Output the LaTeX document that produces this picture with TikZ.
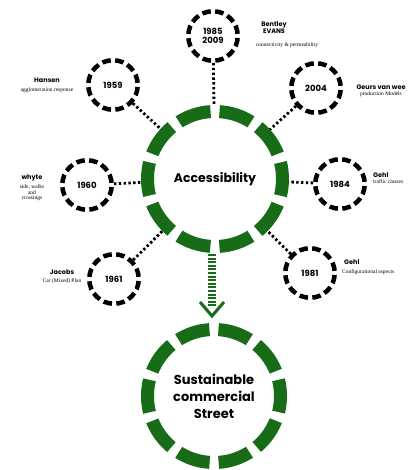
\documentclass[tikz,border=0pt]{standalone}
\usepackage{fontspec}
\setmainfont{Poppins}
\newfontfamily\notefont{Liberation Serif}
\definecolor{ringgreen}{RGB}{24,108,24}
\begin{document}
\begin{tikzpicture}[x=1pt,y=-1pt,
  yearc/.style={circle, draw=black, line width=4.5pt, minimum size=49.5pt, inner sep=0pt,
    dash pattern=on 8.6pt off 4.36pt, dash phase=10.8pt,
    font=\bfseries\fontsize{8.5}{9.5}\selectfont, align=center},
  hubc/.style={circle, draw=ringgreen, line width=13pt, inner sep=0pt, align=center},
  link/.style={draw=black, line width=2.8pt, dash pattern=on 2.4pt off 2.4pt},
  who/.style={font=\bfseries\fontsize{6.5}{7}\selectfont, inner sep=0pt, align=center},
  note/.style={font=\notefont\fontsize{5.5}{5.5}\selectfont, inner sep=0pt, align=center}]
\useasboundingbox (0,0) rectangle (409,470);

% main hubs: ten ring segments, gaps at top and bottom
\node[hubc, minimum size=135pt, dash pattern=on 33.4pt off 9pt, dash phase=16.7pt,
  font=\bfseries\fontsize{12.5}{14}\selectfont] (acc) at (215,179) {Accessibility};
\node[hubc, minimum size=133pt, dash pattern=on 32.8pt off 9pt, dash phase=16.4pt,
  font=\bfseries\fontsize{13}{17}\selectfont] (street) at (214,396)
  {Sustainable\\commercial\\Street};

% year circles
\node[yearc] (y59) at (113,85) {1959};
\node[yearc] (y85) at (213,36) {1985\\2009};
\node[yearc] (y04) at (316,88) {2004};
\node[yearc] (y60) at (87,185) {1960};
\node[yearc] (y84) at (340,184) {1984};
\node[yearc] (y61) at (114,279) {1961};
\node[yearc] (y81) at (310,273) {1981};

% dotted links to the hub
\foreach \y in {y59,y85,y04,y60,y84,y61,y81}
  \draw[link] (\y) -- (acc);

% arrow to the street
\coordinate (tip) at (212,316);
\draw[draw=ringgreen, line width=8pt, dash pattern=on 2pt off 1.6pt] (212,254) -- (212,308);
\draw[draw=ringgreen, line width=3pt] (200,302) -- (tip) -- (224,302);

% authors
\node[who] (hansen) at (47,80) {Hansen};
\node[note] at (47,90) {agglomeration response};
\node[who] (bentley) at (274,28) {Bentley\\EVANS};
\node[note] at (287,45) {connectivity \& permeability};
\node[who] (geurs) at (381,87) {Geurs van wee};
\node[note] at (381,94) {production Models};
\node[who] (whyte) at (32,178) {whyte};
\node[note] at (32,193) {side, walks\\and\\crossings};
\node[who, anchor=west] (gehl1) at (373,175) {Gehl};
\node[note, anchor=west] at (373,182) {traffic classes};
\node[who] (jacobs) at (62,272) {Jacobs};
\node[note] at (62,281) {Car (Mixed) Plan};
\node[who, anchor=west] (gehl2) at (344,262) {Gehl};
\node[note, anchor=west] at (342,272) {Configurational aspects};
\end{tikzpicture}
\end{document}
